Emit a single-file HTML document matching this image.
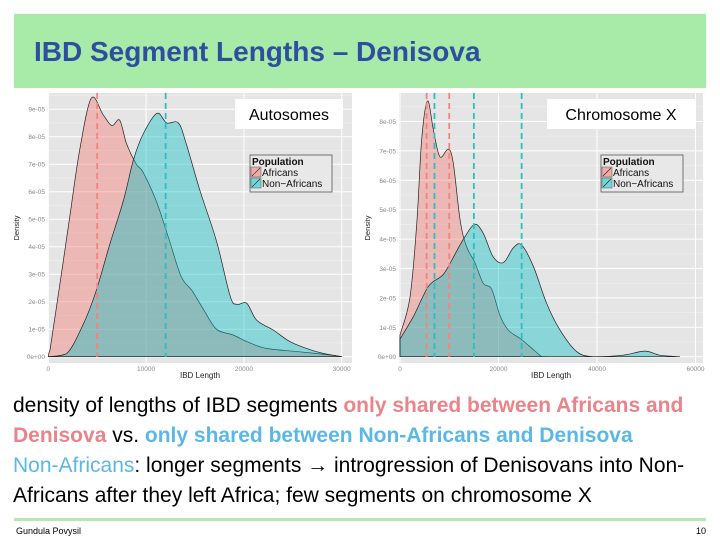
<!DOCTYPE html>
<html><head><meta charset="utf-8">
<style>
body{margin:0;width:720px;height:540px;background:#fff;font-family:"Liberation Sans",sans-serif;position:relative;overflow:hidden}
#hdr{position:absolute;left:14px;top:14px;width:692px;height:74px;background:#a8eaa8}
#title{position:absolute;left:34px;top:36px;font-size:28px;font-weight:bold;color:#2e4fa0;white-space:nowrap}
#body{position:absolute;left:13px;top:391px;font-size:21px;line-height:30px;color:#000;width:720px;white-space:nowrap}
.pk{color:#e8848a;font-weight:bold}.bl{color:#5bb8e6;font-weight:bold}
#foot{position:absolute;left:14px;top:518px;width:692px;height:3px;background:#b5e8b5}
#author{position:absolute;left:16px;top:526px;font-size:9px}
#pnum{position:absolute;right:14px;top:526px;font-size:9px}
svg{position:absolute;left:0;top:0}
</style></head><body>
<div id="hdr"></div>
<div id="title">IBD Segment Lengths – Denisova</div>
<svg id="chart" width="720" height="390"></svg>
<div id="body">density of lengths of IBD segments <span class="pk">only shared between Africans and</span><br><span class="pk">Denisova</span> vs. <span class="bl">only shared between Non-Africans and Denisova</span><br><span class="bl" style="font-weight:normal">Non-Africans</span>: longer segments <b>&#x2192;</b> introgression of Denisovans into Non-<br>Africans after they left Africa; few segments on chromosome X</div>
<div id="foot"></div>
<div id="author">Gundula Povysil</div>
<div id="pnum">10</div>
<script>
// Autosomes (x in thousands, density in 1e-5)
const autoAfrX=[0,0.17,1.5,2.2,3.2,4.4,5.6,6.5,7.3,8,9,9.7,11.1,12.4,13.6,14.7,15.9,17.2,18.9,20.3,22.3,25.7,29.1,30];
const autoAfrY=[0,0.24,3.4,5.1,7.5,9.4,8.8,8.4,8.6,7.75,7.0,6.7,5.6,4.2,2.9,2.4,1.7,1.0,0.79,0.55,0.3,0.18,0.05,0];
const autoNonX=[0,1.9,3.6,4.9,6.3,7.7,8.7,9.7,11.1,12.1,13.3,14.1,15.5,17.2,18.6,19.3,20.3,21.3,23,24.7,26.4,28.1,30];
const autoNonY=[0,0.12,1.2,2.4,4.1,5.7,7.15,8.1,8.85,8.5,8.5,7.75,6.05,4.2,2.2,1.9,1.94,1.33,0.97,0.55,0.3,0.12,0];
const autoDashAfr=[5];
const autoDashNon=[12];
const autoXTicks=[0,10000,20000,30000];
const autoYTicks=["0e+00","1e-05","2e-05","3e-05","4e-05","5e-05","6e-05","7e-05","8e-05","9e-05"];
// Chromosome X
const chrAfrX=[0,2.0,3.4,4.4,5.6,6.8,8.1,9.8,10.8,12.2,13.5,15.2,16.9,18.6,20.3,22,24.4,26.4,28.8,30];
const chrAfrY=[0.74,2.0,4.5,7.4,8.7,7.7,6.8,7.06,6.6,4.65,3.75,3.2,2.5,2.3,1.4,0.9,0.62,0.34,0,0];
const chrNonX=[0,2.7,5.8,8.8,11.2,12.9,15.1,16.9,18.9,21,23,24.7,27.1,29.8,32.5,35.9,39.3,45.3,49.7,52.8,56.8];
const chrNonY=[0.6,1.36,2.4,2.8,3.5,4.0,4.5,4.2,3.4,3.2,3.7,3.8,3.06,1.8,0.9,0.17,0,0.05,0.19,0.05,0];
const chrDashAfr=[5.4,10];
const chrDashNon=[7,15,24.7];
const chrXTicks=[0,20000,40000,60000];
const chrYTicks=["0e+00","1e-05","2e-05","3e-05","4e-05","5e-05","6e-05","7e-05","8e-05"];

const NS="http://www.w3.org/2000/svg";
const svg=document.getElementById('chart');
function mk(t,a,p){const e=document.createElementNS(NS,t);for(const k in a)e.setAttribute(k,a[k]);(p||svg).appendChild(e);return e;}

function drawPanel(o){
  const g=mk('g',{});
  
  
  const sx=v=>o.x0+v*(o.x1v-o.x0)/o.xmax;
  const sy=v=>o.y0-v*o.yper;
  mk('rect',{x:o.L,y:o.T,width:o.R-o.L,height:o.B-o.T,fill:'#e5e5e5'},g);
  for(let i=0;i<o.yTicks.length;i++){const y=sy(i+0.5);if(y>o.T)mk('line',{x1:o.L,x2:o.R,y1:y,y2:y,stroke:'#f0f0f0','stroke-width':0.6},g);}
  o.yTicks.forEach((lab,i)=>{const y=sy(i);
    mk('line',{x1:o.L,x2:o.R,y1:y,y2:y,stroke:'#fff','stroke-width':1},g);
    const t=mk('text',{x:o.L-3,y:y+2.5,'font-size':6.5,fill:'#888','text-anchor':'end'},g);t.textContent=lab;
    
    });
  o.xTicks.forEach(v=>{const x=sx(v/1000);if(x>o.R+5)return;
    if(x<=o.R)mk('line',{x1:x,x2:x,y1:o.T,y2:o.B,stroke:'#fff','stroke-width':1},g);
    const t=mk('text',{x:x,y:o.B+8,'font-size':6.5,fill:'#888','text-anchor':'middle'},g);t.textContent=String(v);
    
    });
  function area(xs,ys,fill,name){
    const P=xs.map((x,i)=>[sx(x),Math.min(sy(ys[i]),o.y0)]);
    let d='M'+P[0][0].toFixed(1)+','+o.y0+' L'+P[0][0].toFixed(1)+','+P[0][1].toFixed(1);
    for(let i=0;i<P.length-1;i++){
      const p0=P[Math.max(i-1,0)],p1=P[i],p2=P[i+1],p3=P[Math.min(i+2,P.length-1)];
      const c1=[p1[0]+(p2[0]-p0[0])/6,p1[1]+(p2[1]-p0[1])/6];
      const c2=[p2[0]-(p3[0]-p1[0])/6,p2[1]-(p3[1]-p1[1])/6];
      c1[1]=Math.min(c1[1],o.y0);c2[1]=Math.min(c2[1],o.y0);
      d+=` C${c1[0].toFixed(1)},${c1[1].toFixed(1)} ${c2[0].toFixed(1)},${c2[1].toFixed(1)} ${p2[0].toFixed(1)},${p2[1].toFixed(1)}`;
    }
    d+=' L'+P[P.length-1][0].toFixed(1)+','+o.y0+' Z';
    const p=mk('path',{d:d,fill:fill,stroke:'#222','stroke-width':0.7,'stroke-linejoin':'round'},g);
    
    
  }
  area(o.afrX,o.afrY,'rgba(248,118,109,0.4)','africans-density');
  area(o.nonX,o.nonY,'rgba(0,191,196,0.4)','non-africans-density');
  function dash(vals,col,name){vals.forEach(v=>{const l=mk('line',{x1:sx(v),x2:sx(v),y1:o.T,y2:o.B-6,stroke:col,'stroke-width':1.8,'stroke-dasharray':'6,4'},g);
    
    });}
  dash(o.dAfr,'#f0857c','africans-mean-line');
  dash(o.dNon,'#2bbfc2','non-africans-mean-line');
  let t=mk('text',{x:(o.L+o.R)/2,y:o.B+15,'font-size':8,fill:'#222','text-anchor':'middle'},g);t.textContent='IBD Length';
  
  
  t=mk('text',{x:0,y:0,'font-size':7.5,fill:'#222','text-anchor':'middle',transform:`translate(${o.L-29},${(o.T+o.B)/2}) rotate(-90)`},g);t.textContent='Density';
  
  
  mk('rect',{x:o.bx,y:99,width:o.bw,height:30,fill:'#fff'},g);
  t=mk('text',{x:o.bx+o.bw/2,y:120,'font-size':16,fill:'#000','text-anchor':'middle'},g);t.textContent=o.label;
  
  
  const lg=mk('g',{},g);
  
  
  mk('rect',{x:o.lx,y:155,width:82,height:37,fill:'#e8e8e8',stroke:'#555','stroke-width':0.8},lg);
  t=mk('text',{x:o.lx+2,y:165,'font-size':10,'font-weight':'bold',fill:'#111'},lg);t.textContent='Population';
  [['Africans','rgba(248,118,109,0.55)',176],['Non\u2212Africans','rgba(0,191,196,0.5)',187]].forEach(e=>{
    mk('rect',{x:o.lx+1,y:e[2]-9,width:10,height:10,fill:e[1],stroke:'#555','stroke-width':0.5},lg);
    mk('line',{x1:o.lx+2,y1:e[2],x2:o.lx+10,y2:e[2]-8,stroke:'#222','stroke-width':0.6},lg);
    const tt=mk('text',{x:o.lx+12,y:e[2],'font-size':10,fill:'#111'},lg);tt.textContent=e[0];
    
    
  });
}
drawPanel({name:'autosomes-chart',L:48,R:352,T:93,B:363,x0:48.3,x1v:341.7,xmax:30,y0:356.7,yper:27.5,
  yTicks:autoYTicks,xTicks:autoXTicks,afrX:autoAfrX,afrY:autoAfrY,nonX:autoNonX,nonY:autoNonY,
  dAfr:autoDashAfr,dNon:autoDashNon,bx:235,bw:108,label:'Autosomes',lx:250});
drawPanel({name:'chromosome-x-chart',L:399,R:703,T:93,B:363,x0:400,x1v:498.5,xmax:20,y0:356.7,yper:29.4,
  yTicks:chrYTicks,xTicks:chrXTicks,afrX:chrAfrX,afrY:chrAfrY,nonX:chrNonX,nonY:chrNonY,
  dAfr:chrDashAfr,dNon:chrDashNon,bx:547,bw:148,label:'Chromosome X',lx:601});
</script>
</body></html>
